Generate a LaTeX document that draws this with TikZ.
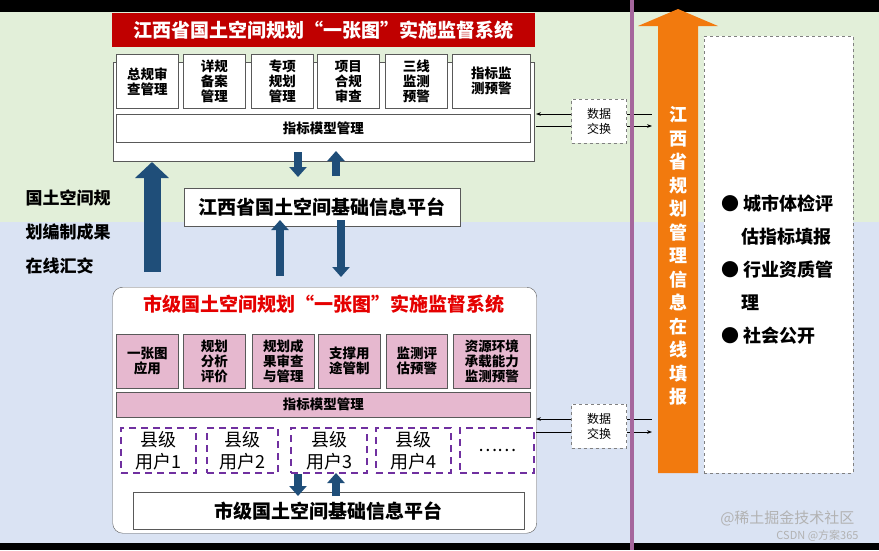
\documentclass[tikz,border=0pt]{standalone}
\usepackage{fontspec}
\setmainfont{Noto Sans CJK SC}
\usetikzlibrary{arrows.meta,shapes.arrows}
\definecolor{bggreen}{HTML}{E2EFD9}
\definecolor{bgblue}{HTML}{DAE3F3}
\definecolor{titred}{HTML}{C00000}
\definecolor{pinkm}{HTML}{E6B8CF}
\definecolor{darrow}{HTML}{1F4E79}
\definecolor{dpurple}{HTML}{7030A0}
\definecolor{vline}{HTML}{A5669C}
\definecolor{orng}{HTML}{F27A0E}
\tikzset{
  px/.style={x=1pt,y=-1pt},
  mod/.style={draw=gray!70!black,line width=0.6pt,fill=white,inner sep=0pt,align=center,font=\fontsize{13.5}{15}\selectfont\bfseries},
  pmod/.style={mod,fill=pinkm},
  county/.style={draw=dpurple,dashed,dash pattern=on 7pt off 5pt,line width=2.2pt,inner sep=0pt,align=center,font=\fontsize{18}{22}\selectfont},
  xbox/.style={draw=gray,dashed,fill=white,inner sep=0pt,align=center,font=\fontsize{12}{15}\selectfont},
  blk/.style={darrow,line width=8pt,-{Triangle[width=17pt,length=10pt]}},
  thin/.style={-{Stealth[length=5pt]},line width=1pt},
}
\begin{document}
\begin{tikzpicture}[px]
\useasboundingbox (0,0) rectangle (879,550);
\fill[black] (0,0) rectangle (879,550);
\fill[bggreen] (0,12) rectangle (879,222);
\fill[bgblue] (0,222) rectangle (879,543);
% top system
\node[draw=gray!70!black,fill=white,minimum width=421pt,minimum height=99pt,inner sep=0pt,anchor=north west] (topsys) at (112.5,62) {};
\node[fill=titred,text=white,minimum width=423pt,minimum height=34pt,inner sep=0pt,anchor=north west,font=\fontsize{19}{20}\selectfont\bfseries] (toptitle) at (112,13) {江西省国土空间规划“一张图”实施监督系统};
\foreach \n/\a/\b/\t in {t1/116/178/{总规审\\查管理},t2/183/245/{详规\\备案\\管理},t3/251/313/{专项\\规划\\管理},t4/317/379/{项目\\合规\\审查},t5/385/447/{三线\\监测\\预警},t6/452/530/{指标监\\测预警}}
  \node[mod,minimum width={\b-\a},minimum height=54pt,anchor=north west] (\n) at (\a,54) {\t};
\node[mod,minimum width=414pt,minimum height=28pt,anchor=north west] (tidx) at (116,114) {指标模型管理};
\node[mod,font=\fontsize{19}{20}\selectfont\bfseries,minimum width=276pt,minimum height=38pt,anchor=north west] (tplat) at (184,188) {江西省国土空间基础信息平台};
\draw[blk] (298,152) -- (298,177);
\draw[blk] (336,176) -- (336,151);
% left label and arrow
\node[align=left,font=\fontsize{17}{34}\selectfont\bfseries,anchor=west] (leftlbl) at (22,232) {国土空间规\\划编制成果\\在线汇交};
\draw[darrow,line width=17pt,-{Triangle[width=33pt,length=16pt]}] (152,272) -- (152,162);
\draw[blk] (280,276) -- (280,220);
\draw[blk] (341,220) -- (341,277);
% bottom system
\node[draw=gray!70!black,fill=white,rounded corners=10pt,minimum width=424pt,minimum height=246pt,inner sep=0pt,anchor=north west] (botsys) at (112.5,287) {};
\node[text=red!90!black,font=\fontsize{19}{20}\selectfont\bfseries] (bottitle) at (324,304) {市级国土空间规划“一张图”实施监督系统};
\foreach \n/\a/\b/\t in {b1/116/178/{一张图\\应用},b2/183/245/{规划\\分析\\评价},b3/252/314/{规划成\\果审查\\与管理},b4/318/380/{支撑用\\途管制},b5/386/447/{监测评\\估预警},b6/453/530/{资源环境\\承载能力\\监测预警}}
  \node[pmod,minimum width={\b-\a},minimum height=54pt,anchor=north west] (\n) at (\a,334) {\t};
\node[pmod,minimum width=414pt,minimum height=25pt,anchor=north west] (bidx) at (116,392) {指标模型管理};
\foreach \n/\a/\b/\t in {c1/120/195/{县级\\用户1},c2/206/277/{县级\\用户2},c3/290/366/{县级\\用户3},c4/375/450/{县级\\用户4},c5/459/533/{……}}
  \node[county,minimum width={\b-\a},minimum height=45pt,anchor=north west] (\n) at (\a,427) {\t};
\node[mod,font=\fontsize{19}{20}\selectfont\bfseries,minimum width=391pt,minimum height=37pt,anchor=north west] (bplat) at (133,492) {市级国土空间基础信息平台};
\draw[blk] (298,474) -- (298,496);
\draw[blk] (336,496) -- (336,473);
% data exchange
\node[xbox,minimum width=55pt,minimum height=44pt] (x1) at (599,121) {数据\\交换};
\node[xbox,minimum width=55pt,minimum height=44pt] (x2) at (599,426) {数据\\交换};
\coordinate (r1a) at (652,114); \coordinate (r1b) at (652,126);
\coordinate (r2a) at (652,419); \coordinate (r2b) at (652,432);
\draw[thin] (x1.west|-r1a) -- (536,114);
\draw[line width=1pt] (536,126) -- (x1.west|-r1b);
\draw[line width=1pt] (x1.east|-r1a) -- (r1a);
\draw[thin] (x1.east|-r1b) -- (r1b);
\draw[thin] (x2.west|-r2a) -- (536,419);
\draw[line width=1pt] (536,432) -- (x2.west|-r2b);
\draw[line width=1pt] (x2.east|-r2a) -- (r2a);
\draw[thin] (x2.east|-r2b) -- (r2b);
% vertical line
\draw[vline,line width=4pt] (632,0) -- (632,550);
% orange arrow
\fill[orng] (658,473) -- (658,26) -- (638,26) -- (678,9) -- (718,26) -- (698,26) -- (698,473) -- cycle;
\node[text=white,align=center,font=\fontsize{18}{23.5}\selectfont\bfseries] (vtext) at (678,256) {江\\西\\省\\规\\划\\管\\理\\信\\息\\在\\线\\填\\报};
% right box
\node[draw=gray,dashed,fill=white,minimum width=149pt,minimum height=437pt,inner sep=0pt,anchor=north west] (rbox) at (704,36) {};
\node[align=left,anchor=north west,font=\fontsize{18}{33}\selectfont\bfseries] (rlist) at (718,191) {● 城市体检评\\\hspace{1.1em}估指标填报\\● 行业资质管\\\hspace{1.1em}理\\● 社会公开};
\node[text=gray!60,font=\fontsize{15}{17}\selectfont,anchor=east] (wm) at (858,518) {@稀土掘金技术社区};
\node[text=gray!60,font=\fontsize{11}{13}\selectfont,anchor=east] (wm2) at (862,536) {CSDN @方案365};
\end{tikzpicture}
\end{document}
